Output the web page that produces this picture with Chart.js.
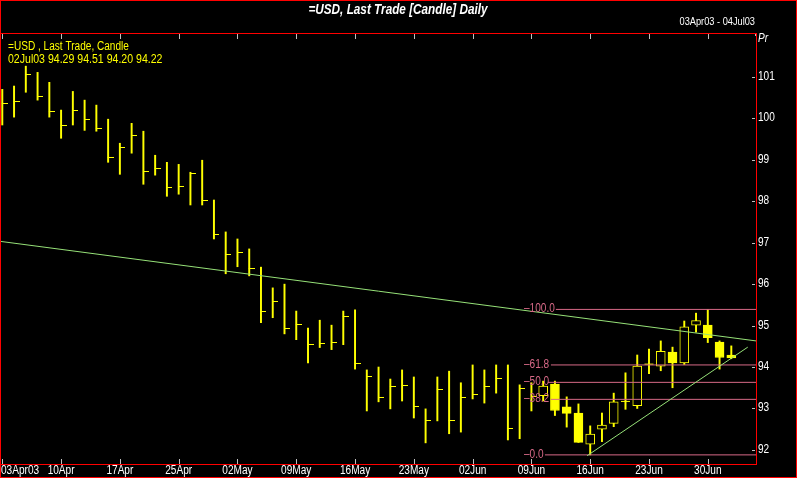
<!DOCTYPE html>
<html>
<head>
<meta charset="utf-8">
<script src="https://cdn.jsdelivr.net/npm/chart.js@4/dist/chart.umd.min.js"></script>
<style>
html,body{margin:0;padding:0;background:#000;}
canvas{display:block;}
</style>
</head>
<body>
<canvas id="c" width="797" height="478"></canvas>
<script>
// ---- data ----
const barDates = ['03Apr03','04Apr','07Apr','08Apr','09Apr','10Apr','11Apr','14Apr','15Apr','16Apr',
  '17Apr','21Apr','22Apr','23Apr','24Apr','25Apr','28Apr','29Apr','30Apr','01May',
  '02May','05May','06May','07May','08May','09May','12May','13May','14May','15May',
  '16May','19May','20May','21May','22May','23May','27May','28May','29May','30May',
  '02Jun','03Jun','04Jun','05Jun','06Jun','09Jun','10Jun','11Jun','12Jun','13Jun',
  '16Jun','17Jun','18Jun','19Jun','20Jun','23Jun','24Jun','25Jun','26Jun','27Jun',
  '30Jun','01Jul','02Jul'];
const openVals = [null,null,null,null,null,null,null,null,null,null,
  null,null,null,null,null,null,null,null,null,null,
  null,null,null,null,null,null,null,null,null,null,
  null,null,null,null,null,null,null,null,null,null,
  null,null,null,null,null,null,93.31,93.59,93.04,92.89,
  92.14,92.50,92.64,93.17,93.07,94.07,94.02,94.36,94.10,95.01,
  95.01,94.60,94.29];
const highVals = [100.70,100.78,101.26,101.11,100.87,100.20,100.65,100.44,100.32,99.98,
  99.40,99.88,99.69,99.11,98.94,98.89,98.70,98.99,98.03,97.26,
  97.09,96.85,96.41,95.91,96.00,95.35,94.94,95.13,95.01,95.35,
  95.38,93.93,94.00,93.71,93.93,93.76,92.99,93.76,93.90,93.62,
  94.05,93.93,94.05,94.05,93.57,93.62,93.66,93.66,93.28,93.11,
  92.58,92.89,93.37,93.86,94.29,94.43,94.63,94.48,95.11,95.30,
  95.39,94.63,94.51];
const lowVals = [99.84,100.03,100.63,100.44,100.03,99.52,99.84,99.71,99.69,98.94,
  98.65,99.16,98.41,98.63,98.12,98.17,97.91,97.91,97.09,96.25,
  96.42,96.20,95.07,95.19,94.80,94.66,94.10,94.47,94.42,94.54,
  93.95,92.94,93.16,92.99,93.18,92.77,92.17,92.70,92.39,92.43,
  93.23,93.13,93.37,92.24,92.27,92.94,93.18,92.83,92.55,92.18,
  91.88,92.20,92.56,92.98,93.00,93.84,93.91,93.50,94.06,94.84,
  94.59,93.95,94.20];
const closeVals = [100.36,100.41,101.06,100.53,100.17,99.83,100.19,99.97,99.76,99.06,
  99.30,99.59,98.72,98.79,98.33,98.36,98.67,98.02,97.20,96.72,
  96.77,96.38,95.34,95.58,94.93,95.03,94.55,94.57,94.60,95.22,
  94.09,93.78,93.27,93.54,93.56,93.05,92.72,93.46,92.72,93.27,
  93.34,93.54,93.73,92.52,93.49,93.28,93.54,92.95,92.88,92.18,
  92.38,92.60,93.16,93.17,94.02,94.07,94.38,94.10,94.97,95.12,
  94.71,94.23,94.22];

const tickIndex  = [0,5,10,15,20,25,30,35,40,45,50,55,60];
const tickLabels = ['03Apr03','10Apr','17Apr','25Apr','02May','09May','16May','23May','02Jun','09Jun','16Jun','23Jun','30Jun'];
const priceTicks = [92,93,94,95,96,97,98,99,100,101];

// trendlines (bar index, price) endpoints
const downTrendX = [-0.11, 64.1];
const downTrendY = [97.03, 94.63];
const upTrendX   = [49.74, 63.4];
const upTrendY   = [91.86, 94.48];

// Fibonacci retracement levels
const fibLabels = ['100.0','61.8','50.0','38.2','0.0'];
const fibPrices = [95.39, 94.05, 93.63, 93.22, 91.88];
const fibStartX = [47.08, 46.66, 46.40, 46.66, 46.15];
const fibLabelX = 44.36;
const fibEndX = 64.1;

const legendLine1 = '=USD , Last Trade, Candle';
const legendLine2 = '02Jul03 94.29 94.51 94.20 94.22';
const titleText = '=USD, Last Trade [Candle] Daily';
const rangeText = '03Apr03 - 04Jul03';

// ---- build datasets ----
const YEL = '#ffff00';
const GREEN = 'rgb(150,225,120)';
const PINK = 'rgb(215,105,135)';
const FONT = 'Arial,"Liberation Sans",sans-serif';
const SQ = 0.84; // horizontal condensing of the narrow reference font

const wickData = barDates.map((d,i)=>({x:i, y:[lowVals[i], highVals[i]]}));
const bodyIdx = barDates.map((d,i)=>i).filter(i=>openVals[i]!==null && openVals[i]!==closeVals[i]);
const bodyData = bodyIdx.map(i=>({x:i, y:[openVals[i], closeVals[i]]}));
const bodyBg = bodyIdx.map(i=> closeVals[i] < openVals[i] ? YEL : '#000');
const dojiData = barDates.map((d,i)=>i).filter(i=>openVals[i]!==null && openVals[i]===closeVals[i]).map(i=>({x:i,y:closeVals[i]}));
const closeTickData = barDates.map((d,i)=>i).filter(i=>openVals[i]===null).map(i=>({x:i,y:closeVals[i]}));

// right-side close tick image
const tickImg = document.createElement('canvas');
tickImg.width = 11; tickImg.height = 1;
(function(){const c=tickImg.getContext('2d'); c.fillStyle=YEL; c.fillRect(5,0,6,1);})();

const datasets = [];
fibPrices.forEach((p,k)=>{
  datasets.push({type:'line', data:[{x:fibStartX[k],y:p},{x:fibEndX,y:p}], borderColor:PINK, borderWidth:1, pointRadius:0, order:1});
});
datasets.push({type:'line', data:[{x:downTrendX[0],y:downTrendY[0]},{x:downTrendX[1],y:downTrendY[1]}], borderColor:GREEN, borderWidth:1, pointRadius:0, order:0});
datasets.push({type:'line', data:[{x:upTrendX[0],y:upTrendY[0]},{x:upTrendX[1],y:upTrendY[1]}], borderColor:GREEN, borderWidth:1, pointRadius:0, order:0});
datasets.push({type:'bar', data:bodyData, backgroundColor:bodyBg, borderColor:YEL, borderWidth:1, borderSkipped:false, barThickness:9, grouped:false, order:2});
datasets.push({type:'scatter', data:dojiData, pointStyle:'line', pointRadius:4.5, borderColor:YEL, borderWidth:1, order:2});
datasets.push({type:'scatter', data:closeTickData, pointStyle:tickImg, pointRadius:5, order:3});
datasets.push({type:'bar', data:wickData, backgroundColor:YEL, barThickness:1.3, grouped:false, order:4});

function txt(ctx, s, x, y, align, sq){
  ctx.save();
  ctx.translate(x, y);
  ctx.scale(sq || SQ, 1);
  ctx.textAlign = align;
  ctx.fillText(s, 0, 0);
  ctx.restore();
}

const decor = {
  id:'decor',
  beforeDraw(chart){
    const ctx = chart.ctx;
    ctx.save();
    ctx.fillStyle = '#000';
    ctx.fillRect(0,0,chart.width,chart.height);
    ctx.restore();
  },
  afterDatasetsDraw(chart){
    const ctx = chart.ctx, xs = chart.scales.x, ys = chart.scales.y;
    ctx.save();
    ctx.font = '12px ' + FONT;
    ctx.fillStyle = PINK;
    ctx.textBaseline = 'middle';
    fibLabels.forEach((t,k)=>{
      txt(ctx, '\u2013' + t, Math.round(xs.getPixelForValue(fibLabelX)), Math.round(ys.getPixelForValue(fibPrices[k])), 'left');
    });
    ctx.restore();
  },
  afterDraw(chart){
    const ctx = chart.ctx, xs = chart.scales.x, ys = chart.scales.y;
    ctx.save();
    // borders
    ctx.strokeStyle = '#ff0000';
    ctx.lineWidth = 1;
    ctx.strokeRect(0.5,0.5,chart.width-1,chart.height-1);
    ctx.strokeRect(0.5, 33.5, 756, 431);
    // x ticks
    ctx.strokeStyle = '#c0c0c0';
    ctx.beginPath();
    tickIndex.forEach(i=>{
      const x = Math.round(xs.getPixelForValue(i)) + 0.5;
      ctx.moveTo(x, 34); ctx.lineTo(x, 39);
      ctx.moveTo(x, 459); ctx.lineTo(x, 464);
    });
    ctx.moveTo(755.5, 34); ctx.lineTo(755.5, 36);
    priceTicks.forEach(v=>{
      const y = Math.round(ys.getPixelForValue(v)) + 0.5;
      ctx.moveTo(752, y); ctx.lineTo(755, y);
    });
    ctx.stroke();
    // x labels
    ctx.fillStyle = '#ffffff';
    ctx.font = '12px ' + FONT;
    ctx.textBaseline = 'middle';
    tickIndex.forEach((i,k)=>{
      if (k===0) txt(ctx, tickLabels[k], 1, 471, 'left');
      else txt(ctx, tickLabels[k], xs.getPixelForValue(i), 471, 'center');
    });
    // y labels
    priceTicks.forEach(v=>{
      txt(ctx, String(v), 758, Math.round(ys.getPixelForValue(v)), 'left');
    });
    ctx.font = 'italic 12px ' + FONT;
    txt(ctx, 'Pr', 758, 39, 'left');
    // title
    ctx.font = 'italic bold 14px ' + FONT;
    txt(ctx, titleText, 398, 10, 'center');
    ctx.font = '11px ' + FONT;
    txt(ctx, rangeText, 755, 22, 'right');
    // legend
    ctx.font = '12px ' + FONT;
    ctx.fillStyle = YEL;
    txt(ctx, legendLine1, 8, 47, 'left');
    txt(ctx, legendLine2, 8, 60, 'left', 0.88);
    ctx.restore();
  }
};

new Chart(document.getElementById('c'), {
  type:'bar',
  data:{datasets},
  options:{
    responsive:false,
    animation:false,
    events:[],
    layout:{autoPadding:false, padding:{left:1, right:41, top:33, bottom:14}},
    plugins:{legend:{display:false}, tooltip:{enabled:false}},
    scales:{
      x:{type:'linear', min:-0.11, max:64.1, offset:false, display:false},
      y:{type:'linear', min:91.66, max:102.06, beginAtZero:false, display:false}
    }
  },
  plugins:[decor]
});
</script>
</body>
</html>
